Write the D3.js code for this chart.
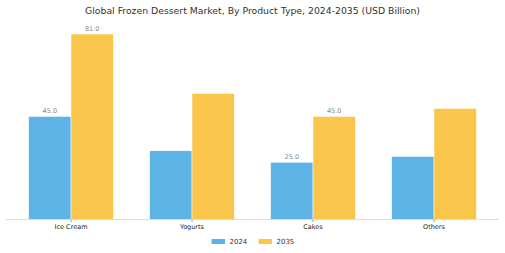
<!DOCTYPE html>
<html>
<head>
<meta charset="utf-8">
<script src="https://cdn.jsdelivr.net/npm/d3@7"></script>
<style>
  body { margin: 0; background: #fff; }
  svg { display: block; font-family: "DejaVu Sans", sans-serif; }
</style>
</head>
<body>
<div id="chart"></div>
<script>
const categories = ["Ice Cream", "Yogurts", "Cakes", "Others"];
const years = ["2024", "2035"];
const values2024 = [45.0, 30.0, 25.0, 27.5];
const values2035 = [81.0, 55.0, 45.0, 48.5];
// only some bars carry a value label in the original
const labels2024 = ["45.0", null, "25.0", null];
const labels2035 = ["81.0", null, "45.0", null];
const colors = ["#5db3e6", "#fac54b"];

const svgWidth = 505;
const svgHeight = 253;
const baseY = 219.5;

const svg = d3.select("#chart")
	.append("svg")
	.attr("width", svgWidth)
	.attr("height", svgHeight);

const x = d3.scaleBand()
	.domain(categories)
	.range([10.5, 494.5])
	.paddingInner(0)
	.paddingOuter(0);

const y = d3.scaleLinear()
	.domain([0, 81])
	.range([baseY, 34]);

const barW = x.bandwidth() * 0.35;

const series = [values2024, values2035];
const labels = [labels2024, labels2035];

series.forEach((vals, s) => {
	const rows = vals.map((v, i) => ({ cat: categories[i], value: v, label: labels[s][i] }));
	const barX = (d) => x(d.cat) + x.bandwidth() / 2 - barW + s * barW;
	const g = svg.append("g");
	g.selectAll("rect")
		.data(rows)
		.join("rect")
		.attr("x", barX)
		.attr("y", (d) => y(d.value))
		.attr("width", barW)
		.attr("height", (d) => baseY - y(d.value))
		.attr("fill", colors[s])
		.attr("stroke", "#fff")
		.attr("stroke-width", 0.5);

	g.selectAll("text")
		.data(rows.filter((d) => d.label !== null))
		.join("text")
		.attr("x", (d) => barX(d) + barW / 2)
		.attr("y", (d) => y(d.value) - 3)
		.attr("text-anchor", "middle")
		.style("font-size", "6.5px")
		.style("fill", "#888")
		.text((d) => d.label);
});

// x axis
const xAxis = svg.append("g")
	.attr("transform", `translate(0, ${baseY})`)
	.call(d3.axisBottom(x).tickSize(2.5).tickPadding(2.5));
xAxis.select(".domain").attr("d", "M6,0H499").attr("stroke", "#ddd");
xAxis.selectAll(".tick line").attr("stroke", "#999");
xAxis.selectAll(".tick text")
	.style("font-size", "6.5px")
	.style("font-family", "DejaVu Sans, sans-serif")
	.style("fill", "#222");

// title
svg.append("text")
	.attr("x", 252.5)
	.attr("y", 13.5)
	.attr("text-anchor", "middle")
	.style("font-size", "9.3px")
	.style("fill", "#333")
	.text("Global Frozen Dessert Market, By Product Type, 2024-2035 (USD Billion)");

// legend
const legend = svg.append("g").attr("transform", "translate(211.5, 241.5)");
years.forEach((yr, i) => {
	const lg = legend.append("g").attr("transform", `translate(${i * 47}, 0)`);
	lg.append("rect")
		.attr("x", 0)
		.attr("y", -2.5)
		.attr("width", 13.5)
		.attr("height", 5)
		.attr("fill", colors[i]);
	lg.append("text")
		.attr("x", 18)
		.attr("y", 2.5)
		.style("font-size", "7px")
		.style("fill", "#333")
		.text(yr);
});
</script>
</body>
</html>
